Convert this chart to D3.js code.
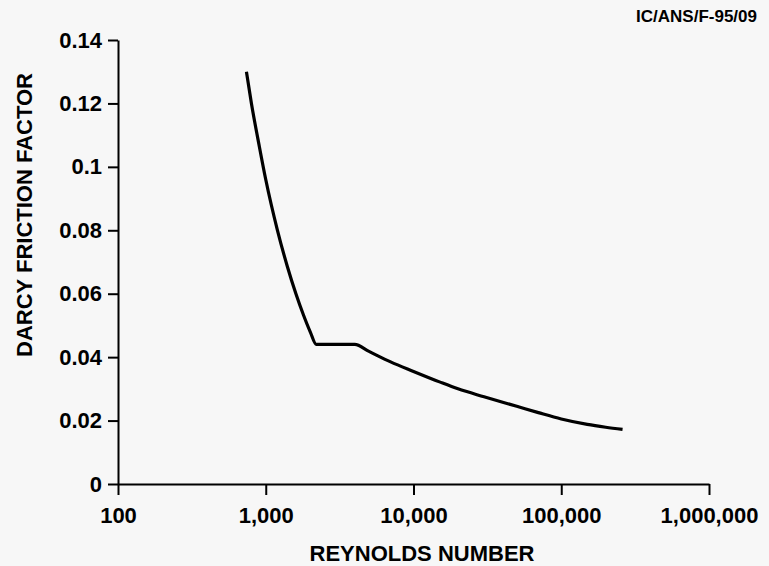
<!DOCTYPE html>
<html>
<head>
<meta charset="utf-8">
<script src="https://cdn.jsdelivr.net/npm/d3@7"></script>
<style>
  html, body { margin: 0; padding: 0; background: #f7f7f7; }
  svg { display: block; font-family: "Liberation Sans", Arial, sans-serif; }
  .axis path, .axis line { stroke: #000; stroke-width: 2; }
  .axis text { font-size: 22px; font-weight: bold; fill: #000; }
</style>
</head>
<body>
<div id="chart"></div>
<script>
(function(){
  'use strict';

  // reynolds number vs darcy friction factor
  var reynolds = [740, 800, 900, 1000, 1200, 1400, 1600, 1800, 2000, 2200, 4000,
                  5000, 7000, 10000, 15000, 20000, 30000, 50000, 70000, 100000, 150000, 200000, 260000],
      friction = [0.130, 0.120, 0.107, 0.096, 0.080, 0.0686, 0.060, 0.0533, 0.048, 0.044, 0.044,
                  0.0418, 0.0385, 0.0355, 0.0322, 0.030, 0.0275, 0.0245, 0.0225, 0.0205, 0.0188, 0.0179, 0.0172],
      xTicks = [100, 1000, 10000, 100000, 1000000],
      yTicks = [0, 0.02, 0.04, 0.06, 0.08, 0.1, 0.12, 0.14],
      yTickLabels = ['0', '0.02', '0.04', '0.06', '0.08', '0.1', '0.12', '0.14'];

  var w = 769,
      h = 566,
      svg = d3.select('#chart').append('svg')
        .attr('width', w)
        .attr('height', h);

  var x = d3.scaleLog()
      .domain([100, 1000000])
      .range([118, 709]),

      y = d3.scaleLinear()
      .domain([0, 0.14])
      .range([484, 40]);

  var xAxis = d3.axisBottom()
      .scale(x)
      .tickValues(xTicks)
      .tickFormat(d3.format(','))
      .tickSize(11)
      .tickSizeOuter(0)
      .tickPadding(12),

      yAxis = d3.axisLeft()
      .scale(y)
      .tickValues(yTicks)
      .tickFormat(function(d, i) { return yTickLabels[i]; })
      .tickSize(10)
      .tickSizeOuter(0)
      .tickPadding(6);

  svg.append('g')
    .attr('transform', 'translate(0,' + y(0) + ')')
    .attr('class', 'x axis')
    .call(xAxis);

  svg.append('g')
    .attr('transform', 'translate(' + x(100) + ',0)')
    .attr('class', 'y axis')
    .call(yAxis);

  var pts = reynolds.map(function(r, i) { return [r, friction[i]]; });

  svg.append('path')
    .datum(pts)
    .attr('d', d3.line()
      .x(function(d) { return x(d[0]); })
      .y(function(d) { return y(d[1]); })
      .curve(d3.curveMonotoneX))
    .style('fill', 'none')
    .style('stroke', '#000')
    .style('stroke-width', 3.2);

  svg.append('text')
    .attr('x', 422)
    .attr('y', 561)
    .attr('text-anchor', 'middle')
    .style('font-size', '22px')
    .style('font-weight', 'bold')
    .text('REYNOLDS NUMBER');

  svg.append('text')
    .attr('transform', 'translate(32,215) rotate(-90)')
    .attr('text-anchor', 'middle')
    .style('font-size', '22px')
    .style('font-weight', 'bold')
    .text('DARCY FRICTION FACTOR');

  svg.append('text')
    .attr('x', 757)
    .attr('y', 22)
    .attr('text-anchor', 'end')
    .style('font-size', '17px')
    .style('font-weight', 'bold')
    .text('IC/ANS/F-95/09');

}());
</script>
</body>
</html>
